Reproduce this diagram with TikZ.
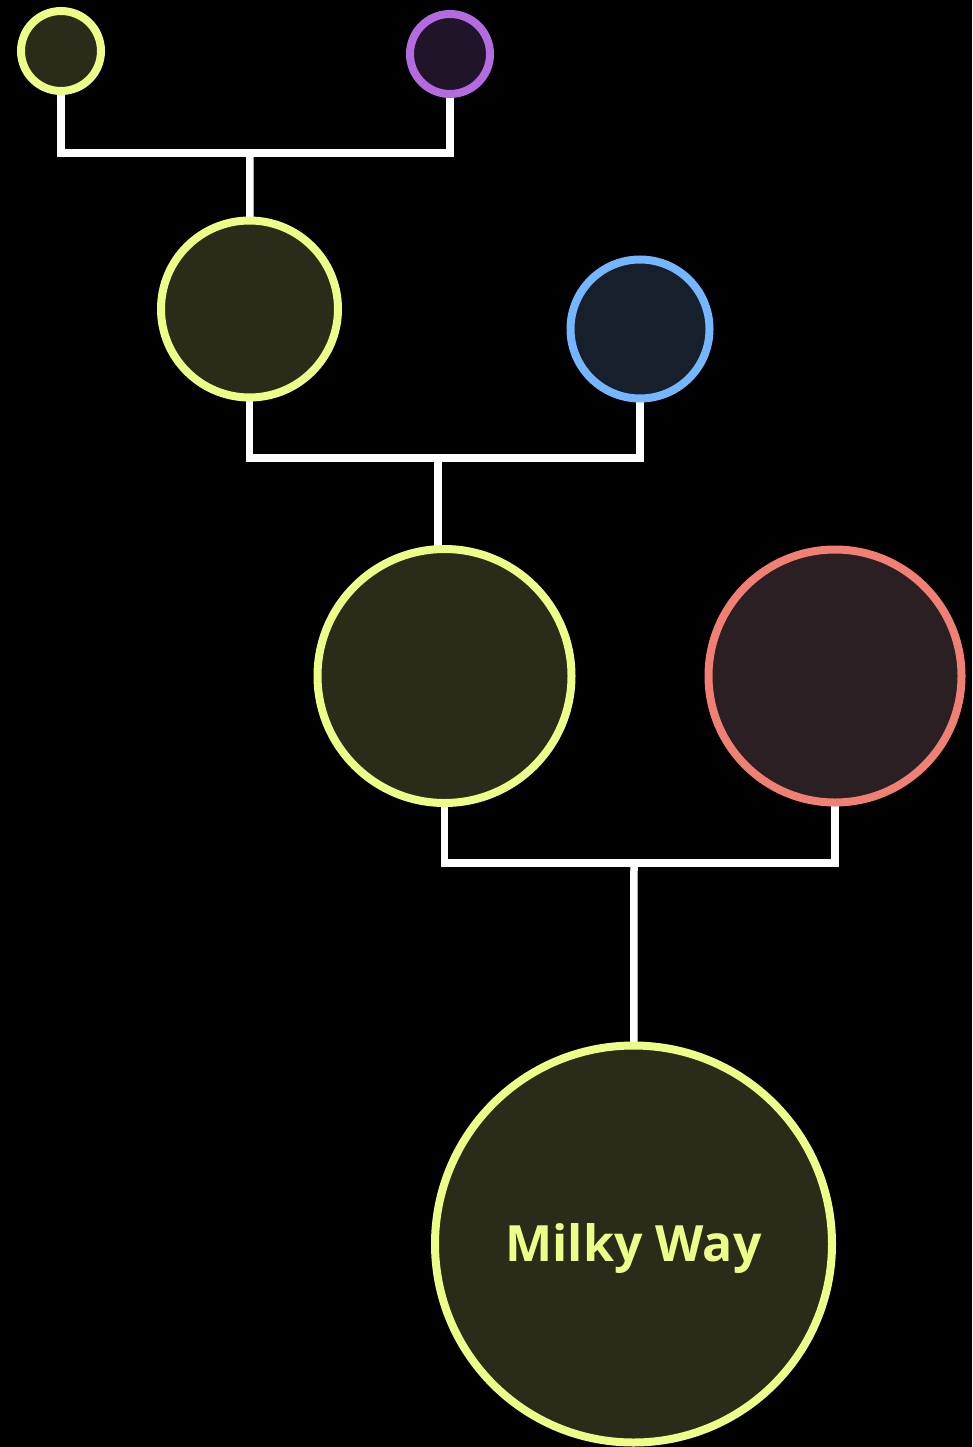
\documentclass[tikz,border=0pt]{standalone}
\usepackage{fontspec}
\setmainfont{Open Sans}
\pgfdeclarelayer{bg}
\pgfdeclarelayer{lines}
\pgfsetlayers{bg,lines,main}
\definecolor{ylw}{HTML}{EEFD88}
\definecolor{ylwfill}{HTML}{2A2C19}
\definecolor{prp}{HTML}{B46BE0}
\definecolor{prpfill}{HTML}{1F1428}
\definecolor{blu}{HTML}{74B6FF}
\definecolor{blufill}{HTML}{171F2B}
\definecolor{red}{HTML}{F07F74}
\definecolor{redfill}{HTML}{2A1F22}
\tikzset{
  galaxy/.style={circle, draw, line width=8pt, inner sep=0pt, minimum size=#1},
  yl/.style={draw=ylw, fill=ylwfill},
  pp/.style={draw=prp, fill=prpfill},
  bl/.style={draw=blu, fill=blufill},
  rd/.style={draw=red, fill=redfill},
  link/.style={draw=white, line width=7.5pt}
}
\begin{document}
\begin{tikzpicture}[x=1pt,y=-1pt]
\begin{pgfonlayer}{bg}
\fill[black] (0,0) rectangle (972,1447);
\end{pgfonlayer}
\useasboundingbox (0,0) rectangle (972,1447);
\node[galaxy=80pt, pp] (g2) at (450,54) {};
\node[galaxy=80pt, yl] (g1) at (61,51) {};
\node[galaxy=177pt, yl] (g3) at (249.5,309) {};
\node[galaxy=139pt, bl] (g4) at (640,329) {};
\node[galaxy=254pt, yl] (g5) at (444.5,676) {};
\node[galaxy=253pt, rd] (g6) at (835,676) {};
\node[galaxy=397pt, yl] (g7) at (633.5,1244) {};
\node[text=ylw, font=\bfseries\fontsize{50}{60}\selectfont, inner sep=0pt] (mw) at ([yshift=-4pt]g7.center) {Milky Way};
\coordinate (j1) at (250,153);
\coordinate (j2) at (438,458);
\coordinate (j3) at (634,863);
\begin{pgfonlayer}{lines}
\draw[link] (g1.center) |- (j1) -| (g2.center);
\draw[link] (j1) -- (g3.center);
\draw[link] (g3.center) |- (j2) -| (g4.center);
\draw[link] (j2) -- (j2 |- g5.center);
\draw[link] (g5.center) |- (j3) -| (g6.center);
\draw[link] (j3) -- (g7.center);
\end{pgfonlayer}
\end{tikzpicture}
\end{document}
